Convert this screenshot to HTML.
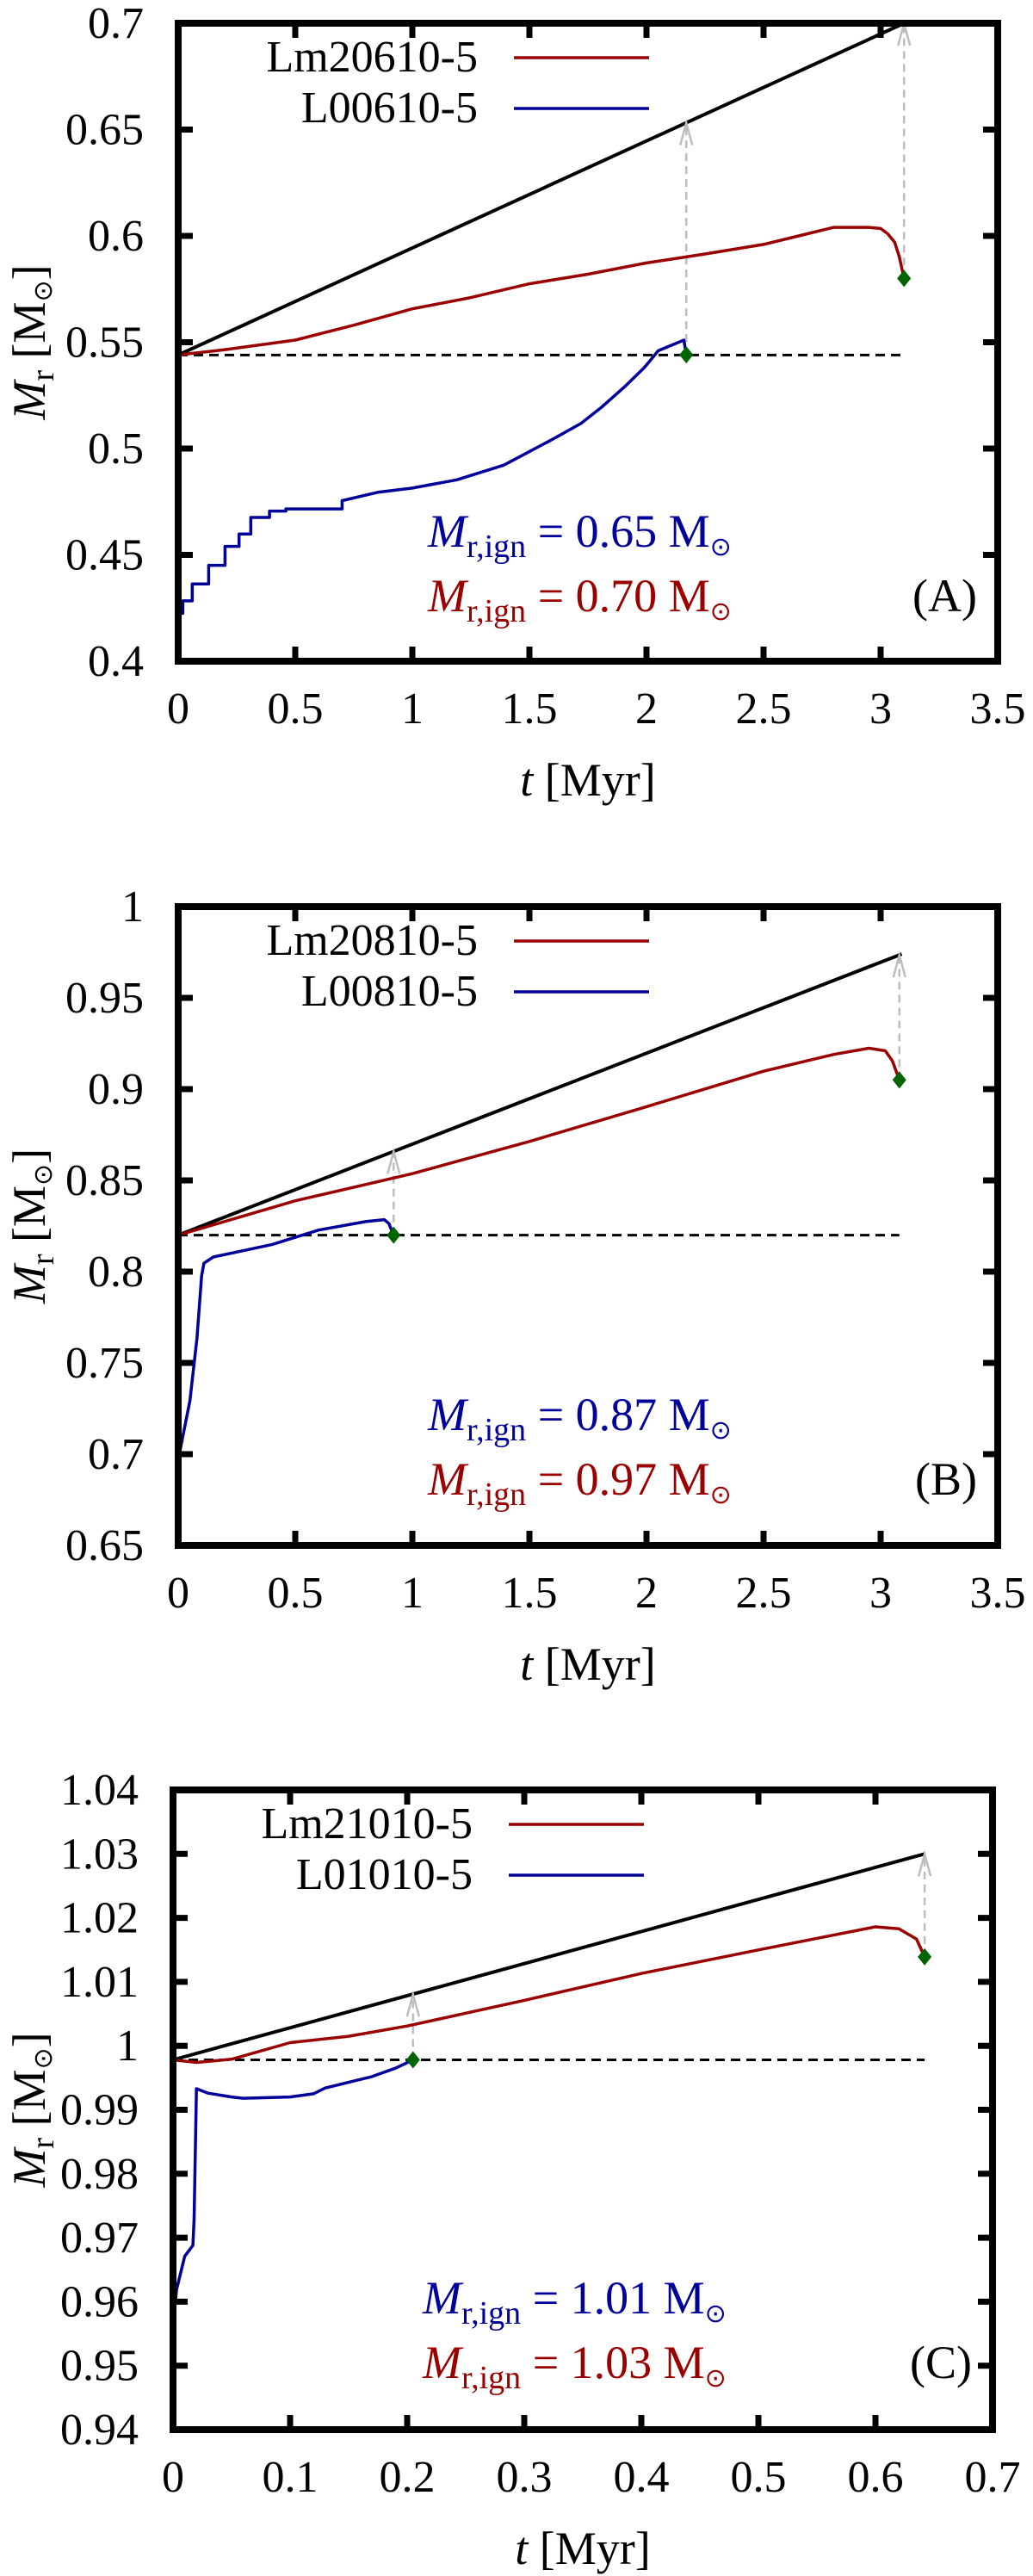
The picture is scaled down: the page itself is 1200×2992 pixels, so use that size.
<!DOCTYPE html>
<html><head><meta charset="utf-8"><title>Mr vs t</title>
<style>
html,body{margin:0;padding:0;background:#fff;}
svg{display:block;font-family:"Liberation Serif","DejaVu Serif",serif;}
svg text{font-family:"Liberation Serif","DejaVu Serif",serif;}
</style></head>
<body>
<svg id="fig" width="1200" height="2992" viewBox="0 0 1200 2992" xmlns="http://www.w3.org/2000/svg" font-family="'Liberation Serif', 'DejaVu Serif', serif"></svg>
<script>
// ---------- Panel A data ----------
const aXTicks = ["0","0.5","1","1.5","2","2.5","3","3.5"];
const aYTicks = ["0.4","0.45","0.5","0.55","0.6","0.65","0.7"];
const aRedT = [0,0.2,0.5,0.75,1.0,1.25,1.5,1.75,2.0,2.25,2.5,2.65,2.8,2.95,3.0,3.03,3.06,3.08,3.1];
const aRedM = [0.544,0.5465,0.551,0.558,0.5657,0.571,0.5775,0.582,0.5873,0.5915,0.596,0.600,0.604,0.604,0.6035,0.601,0.597,0.590,0.580];
const aBlueT = [0,0.02,0.02,0.06,0.06,0.13,0.13,0.2,0.2,0.26,0.26,0.31,0.31,0.39,0.39,0.46,0.46,0.7,0.7,0.85,1.0,1.19,1.39,1.49,1.61,1.72,1.81,1.91,1.99,2.05,2.16,2.17];
const aBlueM = [0.4225,0.4225,0.4284,0.4284,0.4363,0.4363,0.4451,0.4451,0.454,0.454,0.4598,0.4598,0.4676,0.4676,0.4706,0.4706,0.4716,0.4716,0.4755,0.4794,0.4814,0.4853,0.4922,0.498,0.505,0.5118,0.5196,0.5294,0.538,0.546,0.551,0.5441];
const aLimitT = [0,3.1];
const aLimitM = [0.544,0.7];
const aIgnT = [2.17,3.1];
const aIgnM = [0.5441,0.580];
const aLabels = ["Lm20610-5","L00610-5","0.65","0.70","(A)"];

// ---------- Panel B data ----------
const bXTicks = ["0","0.5","1","1.5","2","2.5","3","3.5"];
const bYTicks = ["0.65","0.7","0.75","0.8","0.85","0.9","0.95","1"];
const bRedT = [0,0.5,1.0,1.5,2.0,2.5,2.8,2.95,3.02,3.05,3.08];
const bRedM = [0.82,0.8388,0.8537,0.8713,0.8904,0.9098,0.919,0.9224,0.921,0.9155,0.905];
const bBlueT = [0,0.02,0.05,0.08,0.1,0.11,0.15,0.4,0.6,0.8,0.88,0.9,0.92];
const bBlueM = [0.6966,0.7098,0.7292,0.7635,0.7977,0.8046,0.808,0.8148,0.8228,0.8274,0.8285,0.8263,0.82];
const bLimitT = [0,3.09];
const bLimitM = [0.82,0.974];
const bIgnT = [0.92,3.08];
const bIgnM = [0.82,0.905];
const bLabels = ["Lm20810-5","L00810-5","0.87","0.97","(B)"];

// ---------- Panel C data ----------
const cXTicks = ["0","0.1","0.2","0.3","0.4","0.5","0.6","0.7"];
const cYTicks = ["0.94","0.95","0.96","0.97","0.98","0.99","1","1.01","1.02","1.03","1.04"];
const cRedT = [0,0.02,0.05,0.1,0.15,0.2,0.3,0.4,0.5,0.6,0.62,0.635,0.642];
const cRedM = [0.9978,0.9974,0.9979,1.0005,1.0015,1.0031,1.0071,1.0113,1.015,1.0186,1.0183,1.0167,1.0139];
const cBlueT = [0,0.003,0.01,0.017,0.018,0.02,0.03,0.05,0.06,0.1,0.12,0.13,0.15,0.17,0.19,0.205];
const cBlueM = [0.9563,0.9619,0.9671,0.9688,0.973,0.9933,0.9926,0.992,0.9918,0.992,0.9925,0.9934,0.9943,0.9952,0.9965,0.9978];
const cLimitT = [0,0.642];
const cLimitM = [0.9978,1.03];
const cIgnT = [0.205,0.642];
const cIgnM = [0.9978,1.0139];
const cLabels = ["Lm21010-5","L01010-5","1.01","1.03","(C)"];

const RED = "#9a0000", BLUE = "#00009a", GREEN = "#006400";
const FONT = "'Liberation Serif', 'DejaVu Serif', serif";
const NS = "http://www.w3.org/2000/svg";
const svg = document.getElementById("fig");

function mk(tag, attrs, parent) {
  const e = document.createElementNS(NS, tag);
  for (const k in attrs) e.setAttribute(k, attrs[k]);
  if (tag === "text") e.setAttribute("font-family", FONT);
  (parent || svg).appendChild(e);
  return e;
}

const panels = [
  {id:"a", L:207, R:1159, T:27, B:768, xmin:0, xmax:3.5, ymin:0.4, ymax:0.7,
   xt:aXTicks, yt:aYTicks, redT:aRedT, redM:aRedM, blueT:aBlueT, blueM:aBlueM,
   limT:aLimitT, limM:aLimitM, ignT:aIgnT, ignM:aIgnM, lab:aLabels},
  {id:"b", L:207, R:1159, T:1053, B:1795, xmin:0, xmax:3.5, ymin:0.65, ymax:1.0,
   xt:bXTicks, yt:bYTicks, redT:bRedT, redM:bRedM, blueT:bBlueT, blueM:bBlueM,
   limT:bLimitT, limM:bLimitM, ignT:bIgnT, ignM:bIgnM, lab:bLabels},
  {id:"c", L:201, R:1153, T:2079, B:2822, xmin:0, xmax:0.7, ymin:0.94, ymax:1.04,
   xt:cXTicks, yt:cYTicks, redT:cRedT, redM:cRedM, blueT:cBlueT, blueM:cBlueM,
   limT:cLimitT, limM:cLimitM, ignT:cIgnT, ignM:cIgnM, lab:cLabels}
];

panels.forEach(p => {
  const g = mk("g", {});
  
  
  const sx = v => p.L + (v - p.xmin) / (p.xmax - p.xmin) * (p.R - p.L);
  const sy = v => p.B - (v - p.ymin) / (p.ymax - p.ymin) * (p.B - p.T);
  const pathOf = (ts, ms) => ts.map((t, i) => (i ? "L" : "M") + sx(t).toFixed(1) + " " + sy(ms[i]).toFixed(1)).join(" ");

  const nx = p.xt.length, ny = p.yt.length;
  p.xt.forEach((lab, i) => {
    const v = p.xmin + i * (p.xmax - p.xmin) / (nx - 1);
    const x = sx(v);
    if (i > 0 && i < nx - 1) {
      const t1 = mk("line", {x1:x, y1:p.B, x2:x, y2:p.B - 17, stroke:"#000", "stroke-width":7}, g);
      
      
      const t2 = mk("line", {x1:x, y1:p.T, x2:x, y2:p.T + 17, stroke:"#000", "stroke-width":7}, g);
      
      
    }
    const tx = mk("text", {x:x, y:p.B + 72, "font-size":52, "text-anchor":"middle"}, g);
    
    
    tx.textContent = lab;
  });
  p.yt.forEach((lab, i) => {
    const v = p.ymin + i * (p.ymax - p.ymin) / (ny - 1);
    const y = sy(v);
    if (i > 0 && i < ny - 1) {
      const t1 = mk("line", {x1:p.L, y1:y, x2:p.L + 17, y2:y, stroke:"#000", "stroke-width":7}, g);
      
      
      const t2 = mk("line", {x1:p.R, y1:y, x2:p.R - 17, y2:y, stroke:"#000", "stroke-width":7}, g);
      
      
    }
    const ty = mk("text", {x:p.L - 40, y:y + 17, "font-size":52, "text-anchor":"end"}, g);
    
    
    ty.textContent = lab;
  });

  const dl = mk("line", {x1:sx(p.limT[0]), y1:sy(p.limM[0]), x2:sx(p.ignT[1]), y2:sy(p.limM[0]), stroke:"#000", "stroke-width":3, "stroke-dasharray":"11 7"}, g);
  
  

  const bl = mk("path", {d:pathOf(p.limT, p.limM), stroke:"#000", "stroke-width":4, fill:"none"}, g);
  
  

  p.ignT.forEach((t, i) => {
    const x = sx(t);
    const ytop = sy(p.limM[0] + (p.limM[1] - p.limM[0]) * (t - p.limT[0]) / (p.limT[1] - p.limT[0]));
    const y0 = sy(p.ignM[i]);
    const a = mk("g", {stroke:"#bdbdbd", "stroke-width":2.5, fill:"none"}, g);
    
    
    mk("line", {x1:x, y1:y0, x2:x, y2:ytop + 2, "stroke-dasharray":"9 6"}, a);
    mk("path", {d:"M" + (x - 7) + " " + (ytop + 26) + " L" + x + " " + ytop + " L" + (x + 7) + " " + (ytop + 26)}, a);
  });

  const rp = mk("path", {d:pathOf(p.redT, p.redM), stroke:RED, "stroke-width":3.5, fill:"none", "stroke-linejoin":"round"}, g);
  
  
  const bp = mk("path", {d:pathOf(p.blueT, p.blueM), stroke:BLUE, "stroke-width":3.5, fill:"none", "stroke-linejoin":"round"}, g);
  
  

  p.ignT.forEach((t, i) => {
    const x = sx(t), y = sy(p.ignM[i]);
    const d = mk("path", {d:"M" + x + " " + (y - 10) + " L" + (x + 8) + " " + y + " L" + x + " " + (y + 10) + " L" + (x - 8) + " " + y + " Z", fill:GREEN}, g);
    
    
  });

  const fr = mk("rect", {x:p.L, y:p.T, width:p.R - p.L, height:p.B - p.T, fill:"none", stroke:"#000", "stroke-width":8}, g);
  
  

  [[p.lab[0], RED, 56], [p.lab[1], BLUE, 115]].forEach(([lab, col, dy]) => {
    const lg = mk("g", {}, g);
    
    
    const lt = mk("text", {x:p.L + 348, y:p.T + dy, "font-size":52, "text-anchor":"end"}, lg);
    lt.textContent = lab;
    mk("line", {x1:p.L + 390, y1:p.T + dy - 16, x2:p.L + 547, y2:p.T + dy - 16, stroke:col, "stroke-width":3.5}, lg);
  });

  [[p.lab[2], BLUE, 608], [p.lab[3], RED, 683]].forEach(([val, col, dy]) => {
    const t = mk("text", {x:p.L + 290, y:p.T + dy, "font-size":54, fill:col}, g);
    
    
    t.innerHTML = '<tspan font-style="italic">M</tspan><tspan font-size="38" dy="12">r,ign</tspan><tspan dy="-12"> = ' + val + ' M</tspan><tspan font-size="30" dy="10" font-family="DejaVu Sans">⊙</tspan>';
  });
  const pl = mk("text", {x:p.R - 24, y:p.T + 683, "font-size":54, "text-anchor":"end"}, g);
  
  
  pl.textContent = p.lab[4];

  const xtl = mk("text", {x:(p.L + p.R) / 2, y:p.B + 156, "font-size":54, "text-anchor":"middle"}, g);
  
  
  xtl.innerHTML = '<tspan font-style="italic">t</tspan> [Myr]';
  const cy = (p.T + p.B) / 2;
  const ytl = mk("text", {x:52, y:cy, "font-size":54, "text-anchor":"middle", transform:"rotate(-90 52 " + cy + ")"}, g);
  
  
  ytl.innerHTML = '<tspan font-style="italic">M</tspan><tspan font-size="38" dy="10">r</tspan><tspan dy="-10"> [M</tspan><tspan font-size="30" dy="8" font-family="DejaVu Sans">⊙</tspan><tspan dy="-8">]</tspan>';
});
</script>
</body></html>
